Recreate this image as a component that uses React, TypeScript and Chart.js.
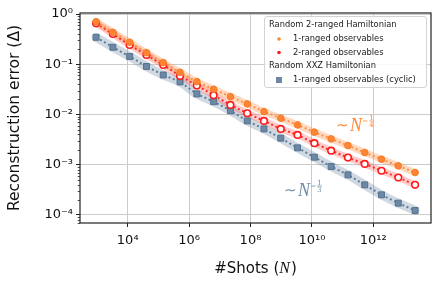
import React, { useEffect, useRef } from "react";
import { Chart, registerables } from "chart.js";
Chart.register(...registerables);

// Number of shots N (x values)
const shots = [
  933, 3289, 11588, 40832, 143880, 506990, 1786500, 6295000, 22180000, 78160000,
  275400000, 970500000, 3420000000, 12050000000, 42460000000, 149600000000,
  527200000000, 1858000000000, 6546000000000, 23070000000000,
];
// Random 2-ranged Hamiltonian, 1-ranged observables
const oneRanged = [
  0.703, 0.433, 0.274, 0.17, 0.1076, 0.0693, 0.0451, 0.0318, 0.0227, 0.01625,
  0.01142, 0.00844, 0.00621, 0.00445, 0.00327, 0.00241, 0.00175, 0.00129, 0.00095, 0.0007,
];
// Random 2-ranged Hamiltonian, 2-ranged observables
const twoRanged = [
  0.653, 0.4, 0.242, 0.153, 0.0968, 0.0585, 0.0379, 0.0242, 0.0155, 0.0106,
  0.00746, 0.00517, 0.00393, 0.00269, 0.00191, 0.00139, 0.00104, 0.00076, 0.000557, 0.000398,
];
// Random XXZ Hamiltonian, 1-ranged observables (cyclic)
const xxzCyclic = [
  0.344, 0.218, 0.143, 0.0904, 0.0612, 0.0445, 0.0257, 0.018, 0.01196, 0.00746,
  0.00517, 0.00338, 0.00217, 0.001416, 0.00092, 0.00063, 0.000398, 0.000252, 0.000172, 0.000123,
];
const xTicks = [1e4, 1e6, 1e8, 1e10, 1e12];
const yTicks = [1e-4, 1e-3, 1e-2, 1e-1, 1];
const legendTitles = ["Random 2-ranged Hamiltonian", "Random XXZ Hamiltonian"];
const legendItems = ["1-ranged observables", "2-ranged observables", "1-ranged observables (cyclic)"];

const ORANGE = "#ff8536";
const RED = "#ff1a1a";
const BLUE = "#5f7e9c";

const SUP: Record<string, string> = {
  "0": "⁰", "1": "¹", "2": "²", "3": "³", "4": "⁴", "5": "⁵", "6": "⁶", "7": "⁷", "8": "⁸", "9": "⁹", "-": "⁻",
};
const powLabel = (v: number) => {
  const e = String(Math.round(Math.log10(v)));
  return "10" + e.split("").map((c) => SUP[c] || c).join("");
};

const toPts = (ys: number[]) => shots.map((x, i) => ({ x, y: ys[i] }));

function drawScaling(ctx: CanvasRenderingContext2D, x: number, base: number, color: string, den: string) {
  ctx.save();
  ctx.fillStyle = color;
  ctx.textAlign = "left";
  ctx.textBaseline = "alphabetic";
  ctx.font = '15px "DejaVu Sans"';
  ctx.fillText("∼", x - 1, base - 1);
  ctx.font = 'italic 18px "Liberation Serif"';
  ctx.fillText("N", x + 13, base);
  let sx = x + 13 + ctx.measureText("N").width + 1;
  const barY = base - 9.5;
  ctx.fillRect(sx, barY - 0.4, 4.5, 0.8);
  sx += 6;
  ctx.font = '7px "DejaVu Serif"';
  ctx.textAlign = "center";
  ctx.fillText("1", sx + 2.5, barY - 1.3);
  ctx.fillRect(sx, barY - 0.35, 5, 0.7);
  ctx.fillText(den, sx + 2.5, barY + 6.3);
  ctx.restore();
}

const decorPlugin = {
  id: "decor",
  afterDraw(chart: any) {
    const ctx: CanvasRenderingContext2D = chart.ctx;
    const ca = chart.chartArea;
    const ys = chart.scales.y;
    ctx.save();
    // minor y ticks
    ctx.strokeStyle = "#222";
    ctx.lineWidth = 0.8;
    for (let d = -5; d <= 0; d++) {
      for (let m = 2; m <= 9; m++) {
        const v = m * Math.pow(10, d);
        if (v < ys.min || v > ys.max) continue;
        const py = Math.round(ys.getPixelForValue(v)) + 0.5;
        ctx.beginPath();
        ctx.moveTo(ca.left, py);
        ctx.lineTo(ca.left - 2.3, py);
        ctx.stroke();
      }
    }
    // frame
    ctx.strokeStyle = "#222";
    ctx.lineWidth = 1.2;
    ctx.strokeRect(ca.left, ca.top, ca.right - ca.left, ca.bottom - ca.top);

    // annotations
    drawScaling(ctx, 337, 130.5, ORANGE, "4");
    drawScaling(ctx, 285, 195.5, "#6f8aa6", "3");

    // legend
    ctx.beginPath();
    const lx = 264.5, ly = 16.5, lw = 162, lh = 71, r = 2.5;
    ctx.moveTo(lx + r, ly);
    ctx.arcTo(lx + lw, ly, lx + lw, ly + lh, r);
    ctx.arcTo(lx + lw, ly + lh, lx, ly + lh, r);
    ctx.arcTo(lx, ly + lh, lx, ly, r);
    ctx.arcTo(lx, ly, lx + lw, ly, r);
    ctx.closePath();
    ctx.fillStyle = "rgba(255,255,255,0.85)";
    ctx.fill();
    ctx.strokeStyle = "#d4d4d4";
    ctx.lineWidth = 1;
    ctx.stroke();

    ctx.font = '8.3px "DejaVu Sans"';
    ctx.fillStyle = "#1a1a1a";
    ctx.textAlign = "left";
    ctx.textBaseline = "middle";
    ctx.fillText(legendTitles[0], 269, 25);
    ctx.fillText(legendItems[0], 293, 39);
    ctx.fillText(legendItems[1], 293, 52.5);
    ctx.fillText(legendTitles[1], 269, 66);
    ctx.fillText(legendItems[2], 293, 80);
    ctx.fillStyle = ORANGE;
    ctx.beginPath();
    ctx.arc(279, 39, 1.8, 0, Math.PI * 2);
    ctx.fill();
    ctx.fillStyle = RED;
    ctx.beginPath();
    ctx.arc(279, 52.5, 1.8, 0, Math.PI * 2);
    ctx.fill();
    ctx.fillStyle = "#6c88a4";
    ctx.fillRect(276, 77, 6, 6);

    // axis titles
    ctx.fillStyle = "#111";
    ctx.font = '15.5px "DejaVu Sans"';
    ctx.textBaseline = "alphabetic";
    ctx.textAlign = "center";
    ctx.save();
    ctx.translate(18.5, (ca.top + ca.bottom) / 2);
    ctx.rotate(-Math.PI / 2);
    ctx.fillText("Reconstruction error (Δ)", 0, 0);
    ctx.restore();

    const p1 = "#Shots (";
    const p3 = ")";
    ctx.font = '15px "DejaVu Sans"';
    const w1 = ctx.measureText(p1).width;
    const w3 = ctx.measureText(p3).width;
    ctx.font = 'italic 16px "Liberation Serif"';
    const w2 = ctx.measureText("N").width + 1;
    const total = w1 + w2 + w3;
    let sx = (ca.left + ca.right) / 2 - total / 2;
    const by = 272.5;
    ctx.textAlign = "left";
    ctx.font = '15px "DejaVu Sans"';
    ctx.fillText(p1, sx, by);
    sx += w1;
    ctx.font = 'italic 16px "Liberation Serif"';
    ctx.fillText("N", sx, by);
    sx += w2;
    ctx.font = '15px "DejaVu Sans"';
    ctx.fillText(p3, sx, by);
    ctx.restore();
  },
};

export default function App() {
  const ref = useRef<HTMLCanvasElement>(null);
  useEffect(() => {
    if (!ref.current) return;
    const dash = [2, 2.6];
    const chart = new Chart(ref.current, {
      type: "line",
      data: {
        datasets: [
          {
            data: toPts(xxzCyclic), borderColor: "rgba(100,130,160,0.3)", borderWidth: 9,
            pointRadius: 0, tension: 0.3, order: 10, borderCapStyle: "round", borderJoinStyle: "round",
          },
          {
            data: toPts(twoRanged), borderColor: "rgba(255,70,60,0.28)", borderWidth: 7,
            pointRadius: 0, tension: 0.3, order: 9, borderCapStyle: "round", borderJoinStyle: "round",
          },
          {
            data: toPts(oneRanged), borderColor: "rgba(255,140,60,0.33)", borderWidth: 7,
            pointRadius: 0, tension: 0.3, order: 8, borderCapStyle: "round", borderJoinStyle: "round",
          },
          {
            data: toPts(xxzCyclic), borderColor: BLUE, borderWidth: 2, borderDash: dash,
            pointStyle: "rect", pointRadius: 4.2, pointBackgroundColor: "#6c88a4",
            pointBorderColor: "#56738f", pointBorderWidth: 1, order: 3, tension: 0,
          },
          {
            data: toPts(twoRanged), borderColor: "#f43030", borderWidth: 2, borderDash: dash,
            pointStyle: "circle", pointRadius: 3.3, pointBackgroundColor: "#ffffff",
            pointBorderColor: RED, pointBorderWidth: 1.6, order: 2, tension: 0,
          },
          {
            data: toPts(oneRanged), borderColor: "#ff9048", borderWidth: 2, borderDash: dash,
            pointStyle: "circle", pointRadius: 3.3, pointBackgroundColor: ORANGE,
            pointBorderColor: "#f77a22", pointBorderWidth: 1, order: 1, tension: 0,
          },
        ],
      },
      options: {
        animation: false,
        responsive: false,
        maintainAspectRatio: false,
        layout: { padding: { top: 13, right: 6, left: 0, bottom: 0 } },
        plugins: { legend: { display: false }, tooltip: { enabled: false } },
        scales: {
          x: {
            type: "logarithmic",
            min: 279,
            max: 7.6e13,
            afterBuildTicks: (s: any) => {
              s.ticks = xTicks.map((v) => ({ value: v }));
            },
            afterFit: (s: any) => {
              s.height = 62;
            },
            border: { display: false },
            grid: { color: "#cccccc", lineWidth: 1, tickColor: "#222", tickLength: 4, tickWidth: 1 },
            ticks: {
              callback: (v: any) => powLabel(Number(v)),
              font: { family: "DejaVu Sans", size: 13 },
              color: "#111",
              padding: 6,
              maxRotation: 0,
              autoSkip: false,
            },
          },
          y: {
            type: "logarithmic",
            min: 6.93e-5,
            max: 1.047,
            afterBuildTicks: (s: any) => {
              s.ticks = yTicks.map((v) => ({ value: v }));
            },
            afterFit: (s: any) => {
              s.width = 80;
            },
            border: { display: false },
            grid: { color: "#cccccc", lineWidth: 1, tickColor: "#222", tickLength: 4, tickWidth: 1 },
            ticks: {
              callback: (v: any) => powLabel(Number(v)),
              font: { family: "DejaVu Sans", size: 13 },
              color: "#111",
              padding: 3,
              autoSkip: false,
            },
          },
        },
      },
      plugins: [decorPlugin],
    } as any);
    return () => chart.destroy();
  }, []);
  return (
    <div style={{ position: "fixed", left: 0, top: 0 }}>
      <canvas ref={ref} width={437} height={285} style={{ width: 437, height: 285 }} />
    </div>
  );
}
